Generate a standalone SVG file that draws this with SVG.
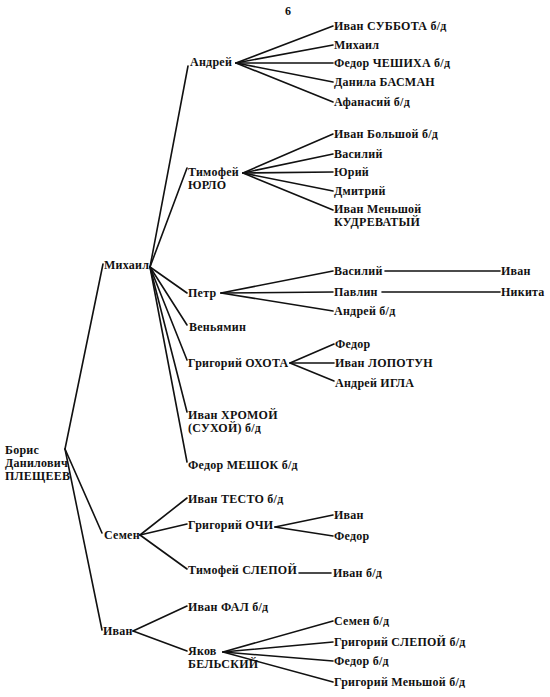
<svg xmlns="http://www.w3.org/2000/svg" width="550" height="697" viewBox="0 0 550 697">
<style>
text{font-family:"Liberation Serif","DejaVu Serif",serif;font-weight:bold;font-size:12px;letter-spacing:0.25px;fill:#111}
.c line{stroke:#111;stroke-width:1.6;stroke-linecap:round}
</style>
<rect width="550" height="697" fill="#fff"/>
<text x="285" y="15">6</text>
<g class="c" id="connectors">
<line x1="65" y1="449" x2="103" y2="264"/>
<line x1="65" y1="449" x2="102" y2="533"/>
<line x1="65" y1="449" x2="102" y2="630"/>
<line x1="150" y1="267" x2="188" y2="66"/>
<line x1="150" y1="267" x2="187" y2="168"/>
<line x1="150" y1="267" x2="187" y2="293"/>
<line x1="150" y1="267" x2="187" y2="325"/>
<line x1="150" y1="267" x2="187" y2="360"/>
<line x1="150" y1="267" x2="187" y2="412"/>
<line x1="150" y1="267" x2="187" y2="462"/>
<line x1="236" y1="63" x2="333" y2="26"/>
<line x1="236" y1="63" x2="333" y2="45"/>
<line x1="236" y1="63" x2="333" y2="63"/>
<line x1="236" y1="63" x2="333" y2="82"/>
<line x1="236" y1="63" x2="333" y2="102"/>
<line x1="243" y1="173" x2="333" y2="134"/>
<line x1="243" y1="173" x2="333" y2="154"/>
<line x1="243" y1="173" x2="333" y2="172"/>
<line x1="243" y1="173" x2="333" y2="191"/>
<line x1="243" y1="173" x2="333" y2="210"/>
<line x1="221" y1="293" x2="333" y2="271"/>
<line x1="221" y1="293" x2="333" y2="292"/>
<line x1="221" y1="293" x2="333" y2="311"/>
<line x1="385" y1="271" x2="500" y2="271"/>
<line x1="382" y1="292" x2="500" y2="292"/>
<line x1="290" y1="363" x2="334" y2="344"/>
<line x1="290" y1="363" x2="334" y2="363"/>
<line x1="290" y1="363" x2="334" y2="381"/>
<line x1="140" y1="535" x2="187" y2="498"/>
<line x1="140" y1="535" x2="187" y2="524"/>
<line x1="140" y1="535" x2="187" y2="569"/>
<line x1="275" y1="527" x2="333" y2="515"/>
<line x1="275" y1="527" x2="333" y2="536"/>
<line x1="299" y1="573" x2="331" y2="573"/>
<line x1="133" y1="631" x2="187" y2="606"/>
<line x1="133" y1="631" x2="187" y2="651"/>
<line x1="223" y1="652" x2="333" y2="621"/>
<line x1="223" y1="652" x2="333" y2="642"/>
<line x1="223" y1="652" x2="333" y2="661"/>
<line x1="223" y1="652" x2="333" y2="682"/>
</g>
<g id="boris"><text x="5" y="454">Борис</text><text x="5" y="467">Данилович</text><text x="5" y="480">ПЛЕЩЕЕВ</text></g>
<g id="mikhail"><text x="104" y="269">Михаил</text></g>
<g id="andrey"><text x="190" y="66">Андрей</text></g>
<g id="a1"><text x="334" y="30">Иван СУББОТА б/д</text></g>
<g id="a2"><text x="334" y="49">Михаил</text></g>
<g id="a3"><text x="334" y="67">Федор ЧЕШИХА б/д</text></g>
<g id="a4"><text x="334" y="86">Данила БАСМАН</text></g>
<g id="a5"><text x="334" y="106">Афанасий б/д</text></g>
<g id="timofey"><text x="188" y="176">Тимофей</text><text x="188" y="189">ЮРЛО</text></g>
<g id="t1"><text x="334" y="138">Иван Большой б/д</text></g>
<g id="t2"><text x="334" y="158">Василий</text></g>
<g id="t3"><text x="334" y="176">Юрий</text></g>
<g id="t4"><text x="334" y="195">Дмитрий</text></g>
<g id="t5"><text x="334" y="213">Иван Меньшой</text><text x="334" y="226">КУДРЕВАТЫЙ</text></g>
<g id="petr"><text x="188" y="297">Петр</text></g>
<g id="p1"><text x="334" y="275">Василий</text></g>
<g id="p1a"><text x="501" y="275">Иван</text></g>
<g id="p2"><text x="334" y="296">Павлин</text></g>
<g id="p2a"><text x="501" y="296">Никита</text></g>
<g id="p3"><text x="334" y="315">Андрей б/д</text></g>
<g id="venyamin"><text x="189" y="331">Веньямин</text></g>
<g id="grigoriy"><text x="188" y="367">Григорий ОХОТА</text></g>
<g id="g1"><text x="335" y="348">Федор</text></g>
<g id="g2"><text x="335" y="367">Иван ЛОПОТУН</text></g>
<g id="g3"><text x="335" y="387">Андрей ИГЛА</text></g>
<g id="ivanh"><text x="188" y="419">Иван ХРОМОЙ</text><text x="188" y="432">(СУХОЙ)  б/д</text></g>
<g id="fedorm"><text x="188" y="469">Федор МЕШОК б/д</text></g>
<g id="semen"><text x="104" y="539">Семен</text></g>
<g id="s1"><text x="188" y="503">Иван ТЕСТО б/д</text></g>
<g id="s2"><text x="188" y="529">Григорий  ОЧИ</text></g>
<g id="s2a"><text x="334" y="519">Иван</text></g>
<g id="s2b"><text x="334" y="540">Федор</text></g>
<g id="s3"><text x="188" y="574">Тимофей СЛЕПОЙ</text></g>
<g id="s3a"><text x="333" y="577">Иван б/д</text></g>
<g id="ivan"><text x="103" y="635">Иван</text></g>
<g id="i1"><text x="188" y="611">Иван ФАЛ б/д</text></g>
<g id="yakov"><text x="188" y="655">Яков</text><text x="188" y="668">БЕЛЬСКИЙ</text></g>
<g id="y1"><text x="334" y="625">Семен б/д</text></g>
<g id="y2"><text x="334" y="646">Григорий СЛЕПОЙ б/д</text></g>
<g id="y3"><text x="334" y="665">Федор б/д</text></g>
<g id="y4"><text x="334" y="686">Григорий Меньшой б/д</text></g>
</svg>
